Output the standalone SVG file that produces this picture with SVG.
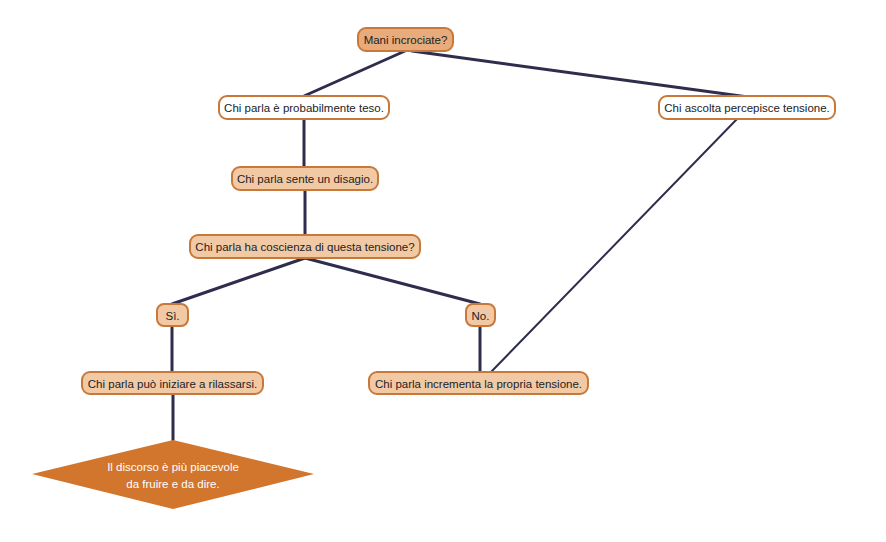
<svg xmlns="http://www.w3.org/2000/svg" width="886" height="542" viewBox="0 0 886 542">
<style>
.n rect{stroke:#c8793a;stroke-width:2}
.w rect{fill:#ffffff}
.f rect{fill:#f2c9a5}
.d rect{fill:#e8ab7c}
text{font-family:"Liberation Sans",Arial,sans-serif;font-size:11.5px;fill:#222;text-anchor:middle;dominant-baseline:central}
.c line{stroke:#2e2d4d;stroke-width:3;stroke-linecap:round}
</style>
<rect width="886" height="542" fill="#ffffff"/>
<g id="connectors" class="c">
<line x1="405" y1="51" x2="304" y2="96"/>
<line x1="412" y1="51" x2="748" y2="97"/>
<line x1="737" y1="119" x2="491" y2="372" style="stroke-width:2"/>
<line x1="304" y1="119" x2="304" y2="167"/>
<line x1="305" y1="190" x2="305" y2="235"/>
<line x1="305" y1="258" x2="172" y2="304"/>
<line x1="305" y1="258" x2="480" y2="304"/>
<line x1="172" y1="326" x2="172" y2="372"/>
<line x1="480" y1="326" x2="480" y2="372"/>
<line x1="173" y1="394" x2="173" y2="440"/>
</g>
<g id="n1" class="n d"><rect x="358" y="28" width="95" height="23" rx="8"/><text x="405.5" y="40">Mani incrociate?</text></g>
<g id="n2" class="n w"><rect x="219" y="96" width="170" height="23" rx="8"/><text x="304" y="108">Chi parla è probabilmente teso.</text></g>
<g id="n3" class="n w"><rect x="659" y="96" width="176" height="23" rx="8"/><text x="747" y="108">Chi ascolta percepisce tensione.</text></g>
<g id="n4" class="n f"><rect x="232" y="167" width="146" height="23" rx="8"/><text x="305" y="179">Chi parla sente un disagio.</text></g>
<g id="n5" class="n f"><rect x="190" y="235" width="230" height="23" rx="8"/><text x="305" y="247">Chi parla ha coscienza di questa tensione?</text></g>
<g id="n6" class="n f"><rect x="157" y="304" width="31" height="22" rx="7"/><text x="172.5" y="315.5">Sì.</text></g>
<g id="n7" class="n f"><rect x="466" y="304" width="29" height="22" rx="7"/><text x="480.5" y="315.5">No.</text></g>
<g id="n8" class="n f"><rect x="82" y="372" width="181" height="22" rx="8"/><text x="172.5" y="383.5">Chi parla può iniziare a rilassarsi.</text></g>
<g id="n9" class="n f"><rect x="369" y="372" width="219" height="22" rx="8"/><text x="478.5" y="383.5">Chi parla incrementa la propria tensione.</text></g>
<g id="n10"><polygon points="173,440 314,474 173,509 32,474" fill="#d2752d"/><text x="173" y="467" style="fill:#ffffff">Il discorso è più piacevole</text><text x="173" y="484" style="fill:#ffffff">da fruire e da dire.</text></g>
</svg>
